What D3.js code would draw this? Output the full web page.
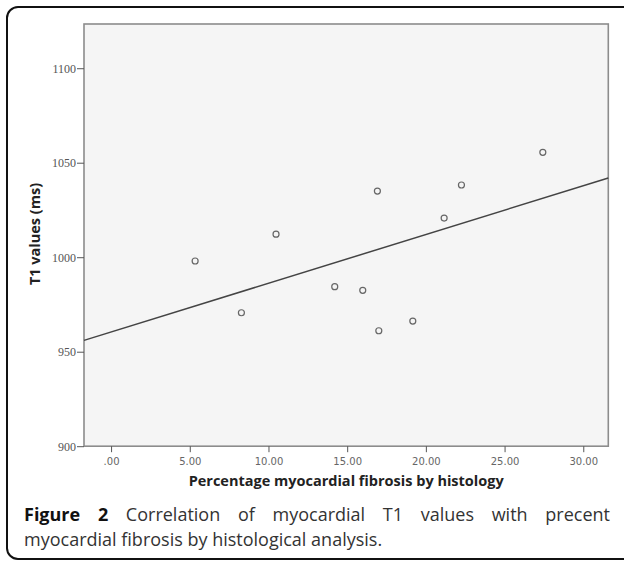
<!DOCTYPE html>
<html>
<head>
<meta charset="utf-8">
<script src="https://cdn.jsdelivr.net/npm/d3@7"></script>
<style>
  body { margin: 0; background: #fff; }
</style>
</head>
<body>
<svg width="624" height="562"></svg>
<script>

// fibrosis percentage (x) and T1 value in ms (y) per subject
var fibrosis = [5.34, 8.28, 10.48, 14.21, 15.99, 16.92, 17.01, 19.17, 21.16, 22.26, 27.43];
var t1Values = [998.0, 970.6, 1012.2, 984.4, 982.5, 1035.0, 961.1, 966.2, 1020.7, 1038.2, 1055.5];

// tick labels
var xTicks = [0, 5, 10, 15, 20, 25, 30];
var yTicks = [900, 950, 1000, 1050, 1100];

var xTitle = "Percentage myocardial fibrosis by histology";
var yTitle = "T1 values (ms)";
var captionBold = "Figure 2";
var captionLine1 = "Correlation of myocardial T1 values with precent";
var captionLine2 = "myocardial fibrosis by histological analysis.";

function draw_chart() {

    var svg = d3.select("svg");
    var plot = {left: 84, top: 24, right: 608.3, bottom: 446.2};

    // scales
    var x = d3.scaleLinear()
        .domain([-1.72, 31.59])
        .range([plot.left, plot.right]);

    var y = d3.scaleLinear()
        .domain([900, 1123.4])
        .range([plot.bottom, plot.top]);

    // outer frame of the figure
    svg.append("rect")
        .attr("x", 7)
        .attr("y", 7)
        .attr("width", 640)
        .attr("height", 552)
        .attr("rx", 11)
        .attr("fill", "none")
        .attr("stroke", "#111")
        .attr("stroke-width", 2);

    // plot background
    svg.append("rect")
        .attr("x", plot.left)
        .attr("y", plot.top)
        .attr("width", plot.right - plot.left)
        .attr("height", plot.bottom - plot.top)
        .attr("fill", "#f5f5f5")
        .attr("stroke", "#8c8c8c")
        .attr("stroke-width", 1.6);

    // y axis
    var yAxis = svg.append("g")
        .attr("transform", "translate(" + plot.left + ",0)")
        .call(d3.axisLeft(y)
            .tickValues(yTicks)
            .tickSize(7)
            .tickPadding(1)
            .tickFormat(d3.format("d")));
    yAxis.select(".domain").remove();
    yAxis.selectAll("line").attr("stroke", "#555");
    yAxis.selectAll("text")
        .attr("font-family", "Liberation Serif, serif")
        .attr("font-size", 12)
        .attr("fill", "#555");

    // x axis
    var xAxis = svg.append("g")
        .attr("transform", "translate(0," + plot.bottom + ")")
        .call(d3.axisBottom(x)
            .tickValues(xTicks)
            .tickSize(6)
            .tickPadding(6)
            .tickFormat(function (d) {
                return d === 0 ? ".00" : d3.format(".2f")(d);
            }));
    xAxis.select(".domain").remove();
    xAxis.selectAll("line").attr("stroke", "#555");
    xAxis.selectAll("text")
        .attr("font-family", "DejaVu Sans, sans-serif")
        .attr("font-size", 10)
        .attr("fill", "#666");

    // axis titles
    svg.append("text")
        .attr("x", (plot.left + plot.right) / 2)
        .attr("y", 486)
        .attr("text-anchor", "middle")
        .attr("font-family", "Open Sans, sans-serif")
        .attr("font-weight", "bold")
        .attr("font-size", 14.5)
        .attr("fill", "#222")
        .text(xTitle);

    svg.append("text")
        .attr("transform", "translate(40,234) rotate(-90)")
        .attr("text-anchor", "middle")
        .attr("font-family", "Open Sans, sans-serif")
        .attr("font-weight", "bold")
        .attr("font-size", 14.5)
        .attr("fill", "#222")
        .text(yTitle);

    // least squares fit line, drawn across the whole plot
    var mx = d3.mean(fibrosis),
        my = d3.mean(t1Values);
    var sxy = d3.sum(fibrosis, function (d, i) { return (d - mx) * (t1Values[i] - my); }),
        sxx = d3.sum(fibrosis, function (d) { return (d - mx) * (d - mx); });
    var slope = sxy / sxx,
        intercept = my - slope * mx;

    svg.append("line")
        .attr("x1", x(x.domain()[0]))
        .attr("y1", y(intercept + slope * x.domain()[0]))
        .attr("x2", x(x.domain()[1]))
        .attr("y2", y(intercept + slope * x.domain()[1]))
        .attr("stroke", "#444")
        .attr("stroke-width", 1.5);

    // points
    svg.append("g")
        .selectAll("circle")
        .data(fibrosis)
        .enter().append("circle")
        .attr("cx", function (d) { return x(d); })
        .attr("cy", function (d, i) { return y(t1Values[i]); })
        .attr("r", 3)
        .attr("fill", "none")
        .attr("stroke", "#666")
        .attr("stroke-width", 1.2);

    // caption, first line justified to the frame width
    var cap1 = svg.append("text")
        .attr("x", 24)
        .attr("y", 521)
        .attr("font-family", "Open Sans, sans-serif")
        .attr("font-size", 18)
        .attr("fill", "#333");
    cap1.append("tspan")
        .attr("font-weight", "bold")
        .attr("fill", "#111")
        .text(captionBold);
    cap1.append("tspan")
        .text(" " + captionLine1);

    var natural = cap1.node().getComputedTextLength();
    var spaces = (captionBold + " " + captionLine1).split(" ").length - 1;
    cap1.attr("word-spacing", (610 - 24 - natural) / spaces);

    svg.append("text")
        .attr("x", 24)
        .attr("y", 546)
        .attr("font-family", "Open Sans, sans-serif")
        .attr("font-size", 18)
        .attr("fill", "#333")
        .text(captionLine2);
}

draw_chart();
</script>
</body>
</html>
